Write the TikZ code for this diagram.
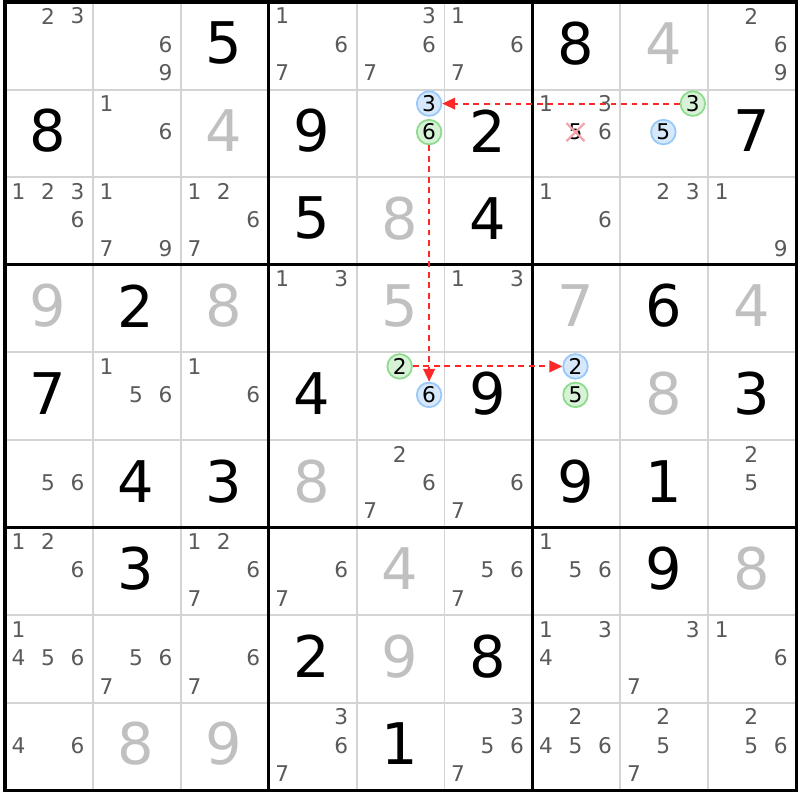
\documentclass[tikz,border=0pt]{standalone}
\usepackage{fontspec}
\setmainfont{DejaVu Sans}
\usetikzlibrary{arrows.meta}
\definecolor{solvedgray}{RGB}{192,192,192}
\definecolor{candgray}{RGB}{90,90,90}
\definecolor{gridgray}{RGB}{212,212,212}
\definecolor{ringblue}{RGB}{150,200,250}
\definecolor{fillblue}{RGB}{214,232,250}
\definecolor{ringgreen}{RGB}{140,220,140}
\definecolor{fillgreen}{RGB}{215,242,215}
\definecolor{linkred}{RGB}{255,40,40}
\definecolor{crosspink}{RGB}{244,160,168}
\begin{document}
\begin{tikzpicture}[x=2.637cm,y=-2.628cm,
    given/.style={inner sep=0pt,font=\fontsize{49}{49}\selectfont},
    solved/.style={given,text=solvedgray},
    cand/.style={inner sep=0pt,font=\fontsize{18.5}{18.5}\selectfont,text=candgray},
    bluering/.style={circle,draw=ringblue,fill=fillblue,line width=1.5pt,minimum size=21pt,text=black},
    greenring/.style={circle,draw=ringgreen,fill=fillgreen,line width=1.5pt,minimum size=21pt,text=black},
    struck/.style={minimum size=15pt,text=black},
    link/.style={draw=linkred,line width=1.6pt,dash pattern=on 5pt off 4pt,-{Triangle[length=11pt,width=10pt,fill=linkred]}}]
\useasboundingbox (-0.0569,-0.0228) rectangle (9.0444,9.1096);
\foreach \i in {1,...,8}
    \draw[gridgray,line width=1.6pt] (\i,0) -- (\i,9) (0,\i) -- (9,\i);
\foreach \i in {3,6}
    \draw[line width=2.6pt] (\i,0) -- (\i,9) (0,\i) -- (9,\i);
\draw[line width=2.6pt] (0,0) rectangle (9,9);
\foreach \r/\c/\d in {1/3/5,1/7/8,2/1/8,2/4/9,2/6/2,2/9/7,3/4/5,3/6/4,4/2/2,4/8/6,5/1/7,5/4/4,
        5/6/9,5/9/3,6/2/4,6/3/3,6/7/9,6/8/1,7/2/3,7/8/9,8/4/2,8/6/8,9/5/1}
    \node[given] (g\r\c) at (\c-0.51,\r-0.53) {\d};
\foreach \r/\c/\d in {1/8/4,2/3/4,3/5/8,4/1/9,4/3/8,4/5/5,4/7/7,4/9/4,5/8/8,6/4/8,7/5/4,7/9/8,
        8/5/9,9/2/8,9/3/9}
    \node[solved] (g\r\c) at (\c-0.51,\r-0.53) {\d};
\foreach \r/\c/\ks in {1/1/{2,3},1/2/{6,9},1/4/{1,6,7},1/5/{3,6,7},1/6/{1,6,7},1/9/{2,6,9},
        2/2/{1,6},2/7/{1,3,6},
        3/1/{1,2,3,6},3/2/{1,7,9},3/3/{1,2,6,7},3/7/{1,6},3/8/{2,3},3/9/{1,9},
        4/4/{1,3},4/6/{1,3},
        5/2/{1,5,6},5/3/{1,6},
        6/1/{5,6},6/5/{2,6,7},6/6/{6,7},6/9/{2,5},
        7/1/{1,2,6},7/3/{1,2,6,7},7/4/{6,7},7/6/{5,6,7},7/7/{1,5,6},
        8/1/{1,4,5,6},8/2/{5,6,7},8/3/{6,7},8/7/{1,3,4},8/8/{3,7},8/9/{1,6},
        9/1/{4,6},9/4/{3,6,7},9/6/{3,5,6,7},9/7/{2,4,5,6},9/8/{2,5,7},9/9/{2,5,6}}
    \foreach \k in \ks {
        \pgfmathtruncatemacro\ci{mod(\k-1,3)}
        \pgfmathtruncatemacro\ri{div(\k-1,3)}
        \node[cand] (c\r\c\k) at ({\c-0.51+(\ci-1)*0.335},{\r-0.515+(\ri-1)*0.325}) {\k};
    }
\foreach \r/\c/\k/\sty in {2/5/3/bluering,2/5/6/greenring,2/8/3/greenring,2/8/5/bluering,
        5/5/2/greenring,5/5/6/bluering,5/7/2/bluering,5/7/5/greenring,2/7/5/struck} {
    \pgfmathtruncatemacro\ci{mod(\k-1,3)}
    \pgfmathtruncatemacro\ri{div(\k-1,3)}
    \node[cand,\sty] (c\r\c\k) at ({\c-0.51+(\ci-1)*0.335},{\r-0.515+(\ri-1)*0.325}) {\k};
}
\draw[crosspink,line width=1.8pt] (c275.north west) -- (c275.south east)
    (c275.south west) -- (c275.north east);
\draw[link,yshift=-0.4pt] (c283) -- (c253);
\draw[link] (c256) -- (c556);
\draw[link] (c552) -- (c572);
\end{tikzpicture}
\end{document}
